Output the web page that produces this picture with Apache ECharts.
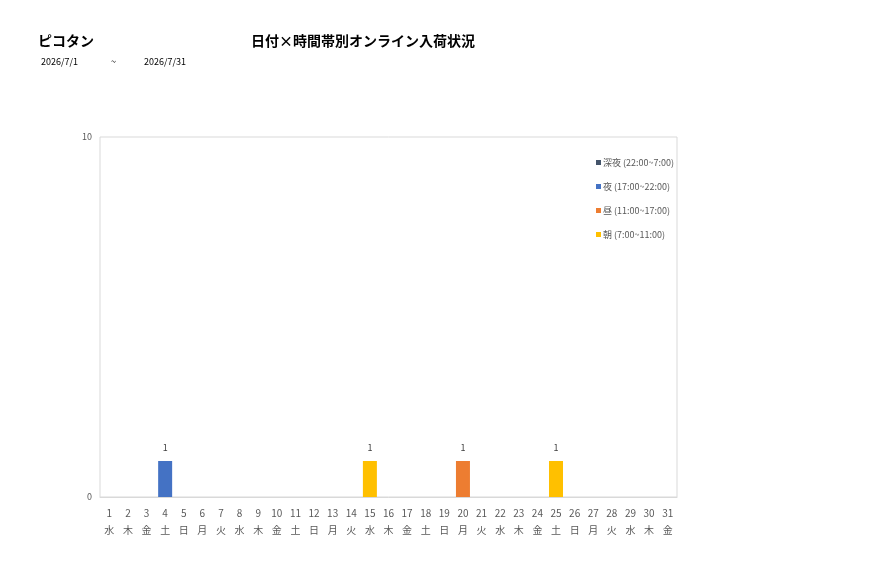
<!DOCTYPE html><html><head><meta charset="utf-8">
<script src="https://cdn.jsdelivr.net/npm/echarts@6/dist/echarts.min.js"></script>
<style>body{margin:0}#c{width:877px;height:578px}</style></head><body><div id="c"></div><script>
const days=Array.from({length:31},(_,i)=>String(i+1));
const weekdays=['水','木','金','土','日','月','火','水','木','金','土','日','月','火','水','木','金','土','日','月','火','水','木','金','土','日','月','火','水','木','金'];
const seriesNames=['深夜 (22:00~7:00)','夜 (17:00~22:00)','昼 (11:00~17:00)','朝 (7:00~11:00)'];
const colors=['#44546a','#4472c4','#ed7d31','#ffc000'];
const shinya=[0,0,0,0,0,0,0,0,0,0,0,0,0,0,0,0,0,0,0,0,0,0,0,0,0,0,0,0,0,0,0];
const yoru=[0,0,0,1,0,0,0,0,0,0,0,0,0,0,0,0,0,0,0,0,0,0,0,0,0,0,0,0,0,0,0];
const hiru=[0,0,0,0,0,0,0,0,0,0,0,0,0,0,0,0,0,0,0,1,0,0,0,0,0,0,0,0,0,0,0];
const asa=[0,0,0,0,0,0,0,0,0,0,0,0,0,0,1,0,0,0,0,0,0,0,0,0,1,0,0,0,0,0,0];
const vals=[shinya,yoru,hiru,asa];
const ch=echarts.init(document.getElementById('c'));
const f='"Noto Sans CJK JP",sans-serif';
ch.setOption({
 animation:false,
 textStyle:{fontFamily:f},
 graphic:[
  {type:'text',left:38,top:34,style:{text:'ピコタン',font:'bold 14px '+f,fill:'#000'}},
  {type:'text',left:251,top:34,style:{text:'日付×時間帯別オンライン入荷状況',font:'bold 14px '+f,fill:'#000'}},
  {type:'text',left:41,top:57,style:{text:'2026/7/1',font:'9px '+f,fill:'#000'}},
  {type:'text',left:111,top:57,style:{text:'~',font:'9px '+f,fill:'#000'}},
  {type:'text',left:144,top:57,style:{text:'2026/7/31',font:'9px '+f,fill:'#000'}}
 ],
 legend:{orient:'vertical',left:591,top:153,itemWidth:5,itemHeight:5,itemGap:15,icon:'rect',
  textStyle:{fontSize:9,color:'#595959',padding:[0,0,0,-3]},data:seriesNames},
 grid:{left:100,top:137,width:577,height:360,show:true,borderColor:'#d9d9d9',borderWidth:1},
 xAxis:{type:'category',data:days,axisLine:{lineStyle:{color:'#d9d9d9'}},axisTick:{show:false},
  axisLabel:{interval:0,color:'#595959',fontSize:10,lineHeight:17,formatter:(v,i)=>v+'\n'+weekdays[i]}},
 yAxis:{type:'value',min:0,max:10,interval:10,splitLine:{show:false},axisLabel:{color:'#595959',fontSize:9,margin:8}},
 series:seriesNames.map((n,k)=>({name:n,type:'bar',stack:'a',barWidth:14,data:vals[k],itemStyle:{color:colors[k]},
  label:{show:true,position:'top',fontSize:9,color:'#404040',offset:[0,-4],formatter:p=>p.value?p.value:''}}))
});
</script></body></html>
